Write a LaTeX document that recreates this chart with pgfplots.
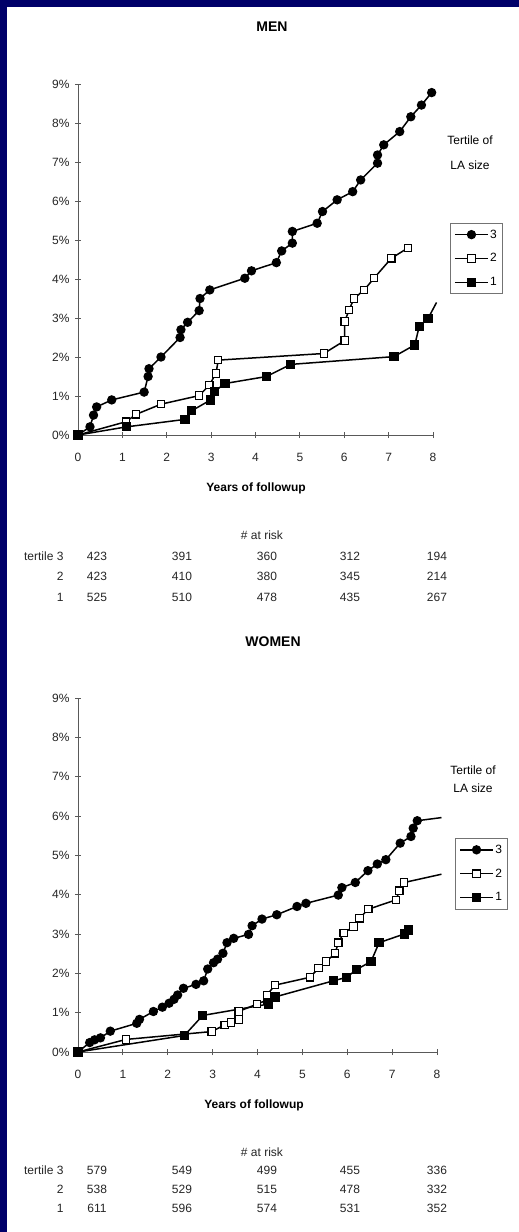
\documentclass[border=0pt]{standalone}
\usepackage{fontspec}
\setmainfont{Liberation Sans}
\usepackage{pgfplots}
\pgfplotsset{compat=1.18}
\definecolor{navyb}{RGB}{0,0,105}
\pgfplotsset{
  kmaxis/.style={
    scale only axis,
    axis lines=left,
    axis line style={-, black!65, line width=0.8pt},
    xmin=0, xmax=8, ymin=0, ymax=9,
    xtick={0,1,...,8}, ytick={0,1,...,9},
    tick align=center, major tick length=6pt,
    tick style={black!65, line width=0.8pt},
    /pgf/number format/assume math mode=true,
    yticklabel={\pgfmathprintnumber{\tick}\%},
    ticklabel style={font=\fontsize{12}{14}\selectfont, text=black!85},
    xticklabel style={yshift=-12pt},
    yticklabel style={xshift=-2pt},
    clip=false,
    legend cell align=left,
    legend image code/.code={\draw[mark repeat=2,mark phase=2,##1] plot coordinates {(0cm,0cm) (0.58cm,0cm) (1.16cm,0cm)};},
    legend style={anchor=north west, draw=black!55, line width=0.7pt,
      font=\fontsize{12}{13}\selectfont, row sep=11pt, inner xsep=4pt, inner ysep=5pt,
      nodes={inner sep=1.5pt}},
  },
  t3/.style={black, line width=1.5pt, mark=*, mark size=3.9pt, mark options={solid, fill=black}},
  t2/.style={black, line width=1.5pt, mark=square*, mark size=3.7pt, mark options={solid, fill=white, line width=1.1pt}},
  t1/.style={black, line width=1.5pt, mark=square*, mark size=3.9pt, mark options={solid, fill=black}},
  tail/.style={black, line width=1.5pt, no marks, forget plot},
}
\begin{document}
\begin{tikzpicture}[x=1pt,y=1pt]
\fill[navyb] (0,0) rectangle (519,-1232);
\fill[white] (7,-7) rectangle (519,-1232);

% ================= MEN =================
\node[font=\bfseries\fontsize{14}{16}\selectfont] at (272,-27) {MEN};
\begin{axis}[kmaxis, at={(78pt,-435pt)}, anchor=south west,
  width=355pt, height=351pt,
  legend style={at={(axis cs:8.38,5.44)}}]
\addplot[t3] coordinates {(0,0) (0.27,0.21) (0.35,0.51) (0.42,0.72) (0.76,0.90) (1.49,1.10) (1.58,1.50) (1.60,1.70) (1.87,2.00) (2.30,2.50) (2.32,2.70) (2.47,2.89) (2.73,3.19) (2.75,3.50) (2.97,3.72) (3.76,4.02) (3.91,4.21) (4.47,4.42) (4.59,4.72) (4.83,4.92) (4.83,5.22) (5.39,5.43) (5.51,5.73) (5.84,6.03) (6.19,6.24) (6.37,6.54) (6.75,6.97) (6.75,7.18) (6.89,7.44) (7.25,7.78) (7.50,8.16) (7.74,8.46) (7.97,8.78)};
\addlegendentry{3}
\addplot[t2] coordinates {(0,0) (1.08,0.34) (1.31,0.53) (1.87,0.79) (2.73,1.01) (2.96,1.28) (3.11,1.58) (3.16,1.92) (5.54,2.09) (6.01,2.42) (6.01,2.91) (6.11,3.21) (6.22,3.50) (6.45,3.72) (6.67,4.02) (7.06,4.53) (7.44,4.80)};
\addlegendentry{2}
\addplot[t1] coordinates {(0,0) (1.10,0.21) (2.41,0.40) (2.56,0.62) (2.99,0.90) (3.07,1.11) (3.31,1.32) (4.25,1.50) (4.79,1.81) (7.12,2.01) (7.59,2.31) (7.69,2.79) (7.89,2.99)};
\addlegendentry{1}
\addplot[tail] coordinates {(7.89,2.99) (8.08,3.40)};
\end{axis}
\node[font=\bfseries\fontsize{12}{14}\selectfont] at (256,-488) {Years of followup};
\node[font=\fontsize{12}{14}\selectfont, align=center] at (470,-140) {Tertile of};
\node[font=\fontsize{12}{14}\selectfont, align=center] at (470,-165) {LA size};
\begin{scope}[every node/.style={font=\fontsize{12}{14}\selectfont, text=black!85}]
\node at (262,-535) {\# at risk};
\node[anchor=east] at (67,-556) {tertile 3};
\node[anchor=east] at (67,-576) {2};
\node[anchor=east] at (67,-597) {1};
\node at (97,-556) {423}; \node at (182,-556) {391}; \node at (267,-556) {360}; \node at (350,-556) {312}; \node at (437,-556) {194};
\node at (97,-576) {423}; \node at (182,-576) {410}; \node at (267,-576) {380}; \node at (350,-576) {345}; \node at (437,-576) {214};
\node at (97,-597) {525}; \node at (182,-597) {510}; \node at (267,-597) {478}; \node at (350,-597) {435}; \node at (437,-597) {267};
\end{scope}

% ================= WOMEN =================
\node[font=\bfseries\fontsize{14}{16}\selectfont] at (273,-642) {WOMEN};
\begin{axis}[kmaxis, at={(78pt,-1052pt)}, anchor=south west,
  width=359pt, height=354pt,
  legend style={at={(axis cs:8.4,5.44)}}]
\addplot[t3] coordinates {(0,0) (0.26,0.24) (0.37,0.31) (0.50,0.36) (0.72,0.53) (1.31,0.73) (1.37,0.83) (1.68,1.03) (1.88,1.14) (2.03,1.24) (2.14,1.34) (2.22,1.45) (2.35,1.62) (2.63,1.72) (2.80,1.81) (2.89,2.11) (3.02,2.27) (3.11,2.36) (3.23,2.51) (3.32,2.78) (3.47,2.89) (3.80,2.99) (3.88,3.21) (4.10,3.38) (4.43,3.49) (4.88,3.70) (5.08,3.78) (5.80,3.99) (5.88,4.18) (6.18,4.31) (6.46,4.61) (6.67,4.78) (6.86,4.89) (7.18,5.31) (7.42,5.48) (7.47,5.69) (7.56,5.88)};
\addlegendentry{3}
\addplot[t2] coordinates {(0,0) (1.07,0.32) (2.98,0.52) (3.27,0.69) (3.41,0.75) (3.58,0.83) (3.58,1.03) (3.99,1.22) (4.21,1.32) (4.21,1.45) (4.39,1.70) (5.17,1.90) (5.36,2.13) (5.53,2.30) (5.73,2.51) (5.80,2.78) (5.92,3.02) (6.14,3.19) (6.27,3.40) (6.47,3.63) (7.09,3.87) (7.16,4.10) (7.27,4.31)};
\addlegendentry{2}
\addplot[t1] coordinates {(0,0) (2.37,0.42) (2.78,0.93) (4.25,1.22) (4.39,1.40) (5.69,1.81) (5.99,1.90) (6.21,2.10) (6.53,2.30) (6.71,2.78) (7.27,3.00) (7.36,3.10)};
\addlegendentry{1}
\addplot[tail] coordinates {(7.56,5.88) (8.10,5.96)};
\addplot[tail] coordinates {(7.27,4.31) (8.10,4.52)};
\end{axis}
\node[font=\bfseries\fontsize{12}{14}\selectfont] at (254,-1105) {Years of followup};
\node[font=\fontsize{12}{14}\selectfont, align=center] at (473,-770) {Tertile of};
\node[font=\fontsize{12}{14}\selectfont, align=center] at (473,-788) {LA size};
\begin{scope}[every node/.style={font=\fontsize{12}{14}\selectfont, text=black!85}]
\node at (262,-1152) {\# at risk};
\node[anchor=east] at (67,-1170) {tertile 3};
\node[anchor=east] at (67,-1189) {2};
\node[anchor=east] at (67,-1208) {1};
\node at (97,-1170) {579}; \node at (182,-1170) {549}; \node at (267,-1170) {499}; \node at (350,-1170) {455}; \node at (437,-1170) {336};
\node at (97,-1189) {538}; \node at (182,-1189) {529}; \node at (267,-1189) {515}; \node at (350,-1189) {478}; \node at (437,-1189) {332};
\node at (97,-1208) {611}; \node at (182,-1208) {596}; \node at (267,-1208) {574}; \node at (350,-1208) {531}; \node at (437,-1208) {352};
\end{scope}
\pgfresetboundingbox
\useasboundingbox (0,0) rectangle (519,-1232);
\end{tikzpicture}
\end{document}
